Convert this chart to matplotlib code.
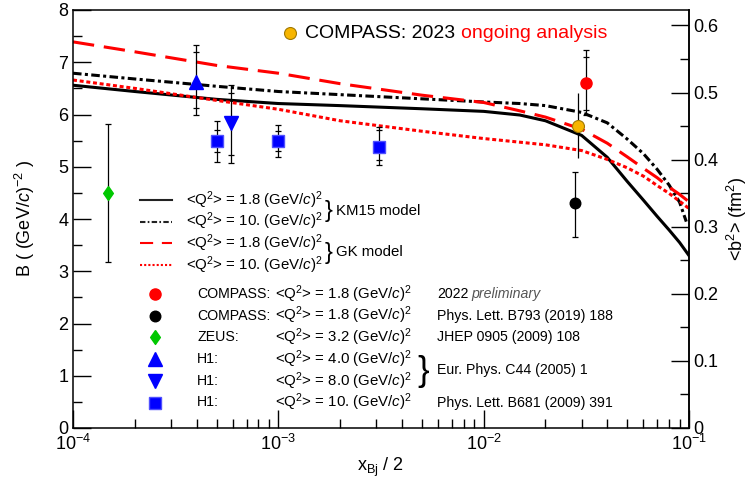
import matplotlib
matplotlib.use("Agg")
import matplotlib.pyplot as plt
from matplotlib.lines import Line2D
from matplotlib.ticker import LogLocator, MultipleLocator, NullFormatter, FuncFormatter

plt.rcParams['font.family'] = ['Liberation Sans', 'DejaVu Sans']
plt.rcParams['mathtext.fontset'] = 'custom'
plt.rcParams['mathtext.rm'] = 'Liberation Sans'
plt.rcParams['mathtext.it'] = 'Liberation Sans:italic'
plt.rcParams['mathtext.bf'] = 'Liberation Sans:bold'

W, H = 752, 483
HBARC2 = 0.0389379  # (hbar c)^2 in GeV^2 fm^2, <b^2> = 2 B (hbar c)^2

# model curves, B in (GeV/c)^-2 versus x_Bj/2
x_model = [1e-4, 2e-4, 5e-4, 1e-3, 2e-3, 5e-3, 1e-2, 1.5e-2, 2e-2, 3e-2,
           4e-2, 5e-2, 6e-2, 7e-2, 8e-2, 9e-2, 1e-1]
km15_q18 = [6.56, 6.44, 6.29, 6.21, 6.17, 6.11, 6.06, 5.99, 5.88, 5.60,
            5.18, 4.72, 4.36, 4.05, 3.79, 3.55, 3.30]
x_km15_q10 = [1e-4, 2e-4, 5e-4, 1e-3, 2e-3, 5e-3, 1e-2, 1.5e-2, 2e-2, 3e-2,
              4e-2, 5e-2, 6e-2, 7e-2, 8e-2, 9e-2, 9.7e-2]
km15_q10 = [6.79, 6.68, 6.54, 6.44, 6.38, 6.30, 6.24, 6.21, 6.17, 6.04,
            5.84, 5.53, 5.25, 4.95, 4.65, 4.32, 3.95]
gk_q18 = [7.39, 7.20, 6.94, 6.79, 6.59, 6.37, 6.23, 6.07, 5.95, 5.72,
          5.45, 5.19, 4.97, 4.79, 4.61, 4.47, 4.33]
gk_q10 = [6.66, 6.50, 6.27, 6.10, 5.88, 5.68, 5.54, 5.47, 5.42, 5.31,
          5.14, 4.98, 4.82, 4.64, 4.49, 4.34, 4.20]

# measurements: x, B, total error (up, down), stat error (up, down)
zeus_x, zeus_b = [1.48e-4], [4.50]
zeus_tot = ([1.32], [1.33])

h1_q4_x, h1_q4_b = [3.96e-4], [6.63]
h1_q4_tot, h1_q4_stat = ([0.70], [0.64]), ([0.57], [0.51])

h1_q8_x, h1_q8_b = [5.9e-4], [5.83]
h1_q8_tot, h1_q8_stat = ([0.73], [0.76]), ([0.59], [0.61])

h1_q10_x = [5.0e-4, 1.0e-3, 3.1e-3]
h1_q10_b = [5.49, 5.49, 5.38]
h1_q10_tot = ([0.39, 0.31, 0.39], [0.39, 0.30, 0.35])
h1_q10_stat = ([0.21, 0.19, 0.32], [0.20, 0.18, 0.25])

compass19_x, compass19_b = [0.028], [4.30]
compass19_tot = ([0.59], [0.64])

compass22_x, compass22_b = [0.0316], [6.60]
compass22_tot, compass22_stat = ([0.63], [0.61]), ([0.50], [0.51])

compass23_x, compass23_b = [0.0288], [5.78]
compass23_tot = ([0.64], [0.62])

RED, BLUE, GREEN, ORANGE = '#ff0000', '#0000ff', '#00c800', '#f7b500'
DIAMOND = [(0, 1), (0.7, 0), (0, -1), (-0.7, 0), (0, 1)]

fig = plt.figure(figsize=(W / 100, H / 100), dpi=100)
ax = fig.add_axes([73 / W, 1 - 428 / H, 616 / W, 418 / H])

LW = 2.2
ax.plot(x_model, km15_q18, color='k', lw=LW, zorder=2)
ax.plot(x_km15_q10, km15_q10, color='k', lw=LW, ls=(0, (2.8, 1.1, 1.0, 1.1)), zorder=2)
ax.plot(x_model, gk_q18, color=RED, lw=LW, ls=(0, (7, 3.2)), zorder=2)
ax.plot(x_model, gk_q10, color=RED, lw=LW, ls=(0, (1.3, 0.9)), zorder=2)


def draw_point(x, b, tot, stat=None, caps=True, **mk):
    ax.errorbar(x, b, yerr=[tot[1], tot[0]], fmt='none', ecolor='k',
                elinewidth=0.9, capsize=2.5 if caps else 0, capthick=0.9, zorder=3)
    if stat is not None:
        hi = [v + s for v, s in zip(b, stat[0])]
        lo = [v - s for v, s in zip(b, stat[1])]
        ax.plot(x + x, hi + lo, ls='none', marker='_', ms=5, mew=0.9, color='k', zorder=3)
    ax.plot(x, b, ls='none', zorder=4, **mk)


zeus_mk = dict(marker=DIAMOND, ms=10, color=GREEN, mec=GREEN)
h1_up_mk = dict(marker='^', ms=9.5, color=BLUE, mec=BLUE)
h1_dn_mk = dict(marker='v', ms=9.5, color=BLUE, mec=BLUE)
h1_sq_mk = dict(marker='s', ms=8.3, color=BLUE, mec='#5050ff')
c19_mk = dict(marker='o', ms=7.6, color='k')
c22_mk = dict(marker='o', ms=8, color=RED, mec=RED)
c23_mk = dict(marker='o', ms=8.6, color=ORANGE, mec='#a07800', mew=0.8)

draw_point(zeus_x, zeus_b, zeus_tot, **zeus_mk)
draw_point(h1_q4_x, h1_q4_b, h1_q4_tot, h1_q4_stat, **h1_up_mk)
draw_point(h1_q8_x, h1_q8_b, h1_q8_tot, h1_q8_stat, **h1_dn_mk)
draw_point(h1_q10_x, h1_q10_b, h1_q10_tot, h1_q10_stat, **h1_sq_mk)
draw_point(compass19_x, compass19_b, compass19_tot, **c19_mk)
draw_point(compass22_x, compass22_b, compass22_tot, compass22_stat, **c22_mk)
draw_point(compass23_x, compass23_b, compass23_tot, caps=False, **c23_mk)

# axes
ax.set_xscale('log')
ax.set_xlim(1e-4, 1e-1)
ax.set_ylim(0, 8)
ax.set_xticks([1e-4, 1e-3, 1e-2, 1e-1],
              labels=[r'$10^{-4}$', r'$10^{-3}$', r'$10^{-2}$', r'$10^{-1}$'])
ax.xaxis.set_minor_locator(LogLocator(base=10, subs=range(2, 10)))
ax.xaxis.set_minor_formatter(NullFormatter())
ax.yaxis.set_major_locator(MultipleLocator(1))
ax.yaxis.set_minor_locator(MultipleLocator(0.5))
ax.tick_params(which='both', direction='in', top=False, right=False, width=1, labelsize=13)
ax.tick_params(which='major', length=13)
ax.tick_params(which='minor', length=6.5)
ax.tick_params(axis='x', pad=4)
for s in ax.spines.values():
    s.set_linewidth(1.1)

sec = ax.secondary_yaxis('right', functions=(lambda b: 2 * HBARC2 * b,
                                             lambda v: v / (2 * HBARC2)))
sec.yaxis.set_major_locator(MultipleLocator(0.1))
sec.yaxis.set_minor_locator(MultipleLocator(0.05))
sec.yaxis.set_major_formatter(FuncFormatter(lambda v, p: f'{v:.1f}'.rstrip('0').rstrip('.') if v else '0'))
sec.tick_params(which='both', direction='in', width=1, labelsize=13, pad=3)
sec.tick_params(which='major', length=13)
sec.tick_params(which='minor', length=6.5)
sec.spines['right'].set_linewidth(1.1)

ax.set_xlabel(r'x$_{\mathrm{Bj}}$ / 2', fontsize=13)
ax.xaxis.set_label_coords(0.5, -28 / 418)
ax.set_ylabel(r'B ( (GeV/$\mathit{c}$)$^{-2}$ )', fontsize=13)
ax.yaxis.set_label_coords(-36 / 616, 0.5)
sec.set_ylabel(r'<b$^{2}$> (fm$^{2}$)', fontsize=13, labelpad=5)


def fpos(x, y):
    return x / W, 1 - y / H


def fig_line(y, **kw):
    fig.add_artist(Line2D([140 / W, 172 / W], [1 - y / H] * 2, transform=fig.transFigure, **kw))


def fig_marker(x, y, **kw):
    fig.add_artist(Line2D([x / W], [1 - y / H], transform=fig.transFigure, ls='none', **kw))


def fig_text(x, y, s, **kw):
    kw.setdefault('fontsize', 10.2)
    kw.setdefault('va', 'center')
    return fig.text(*fpos(x, y), s, **kw)


q2 = r'<Q$^{2}$> = %s (GeV/$\mathit{c}$)$^{2}$'
QFS = 10.8

# model legend
LEG_LW = 1.5
model_rows = [
    (200, dict(color='#222222', lw=LEG_LW), '1.8'),
    (221.7, dict(color='#222222', lw=LEG_LW, ls=(0, (2.6, 1.1, 0.8, 1.1))), '10.'),
    (243.3, dict(color=RED, lw=LEG_LW, ls=(0, (6.3, 4.2))), '1.8'),
    (265, dict(color=RED, lw=LEG_LW, ls=(0, (1.0, 1.0))), '10.'),
]
for y, style, q in model_rows:
    fig_line(y, **style)
    fig_text(186, y, q2 % q, fontsize=QFS)
fig_text(325, 210.5, '}', fontsize=17)
fig_text(336, 211, 'KM15 model', fontsize=10.8)
fig_text(325, 253.5, '}', fontsize=17)
fig_text(336, 252, 'GK model', fontsize=10.8)

# data legend
rows = [
    (c22_mk, 'COMPASS:', '1.8', '2022'),
    (c19_mk, 'COMPASS:', '1.8', 'Phys. Lett. B793 (2019) 188'),
    (zeus_mk, 'ZEUS:', '3.2', 'JHEP 0905 (2009) 108'),
    (h1_up_mk, 'H1:', '4.0', None),
    (h1_dn_mk, 'H1:', '8.0', None),
    (h1_sq_mk, 'H1:', '10.', 'Phys. Lett. B681 (2009) 391'),
]
for i, (mk, exp, q, ref) in enumerate(rows):
    y = 294 + 21.7 * i
    fig_marker(155, y, **mk)
    fig_text(197, y, exp)
    fig_text(275, y, q2 % q, fontsize=QFS)
    if ref is not None:
        t = fig_text(437, y, ref)
        if ref == '2022':
            ax.annotate('preliminary', xy=(1, 0), xycoords=t, xytext=(2.5, 0),
                        textcoords='offset points', va='bottom', ha='left',
                        fontsize=10.2, style='italic', color='#555555')
fig_text(417, 371.5, '}', fontsize=25)
fig_text(437, 370, 'Eur. Phys. C44 (2005) 1')

# ongoing analysis label
fig_marker(290, 33, **c23_mk)
t = fig_text(305, 33, 'COMPASS: 2023', fontsize=14)
ax.annotate('ongoing analysis', xy=(1, 0), xycoords=t, xytext=(4, 0),
            textcoords='offset points', va='bottom', ha='left', fontsize=14, color=RED)

fig.savefig('out.png', dpi=100)
